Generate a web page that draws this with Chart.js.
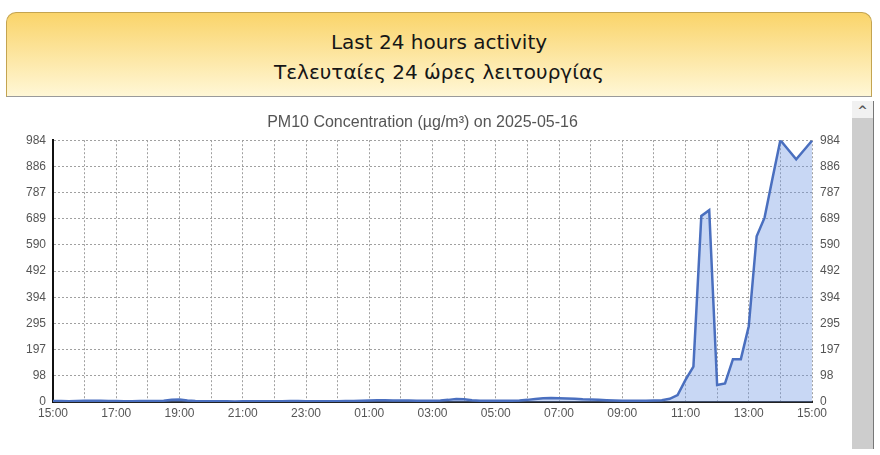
<!DOCTYPE html>
<html>
<head>
<meta charset="utf-8">
<script src="https://cdn.jsdelivr.net/npm/chart.js@4/dist/chart.umd.min.js"></script>
<style>
  html, body { margin: 0; padding: 0; background: #ffffff; }
  body { width: 880px; height: 455px; position: relative; overflow: hidden; }
  #header {
    position: absolute; left: 6px; top: 12px; width: 866px; height: 85px;
    border: 1px solid #c4a450; border-bottom: 1px solid #9a9a9a;
    border-radius: 10px 10px 0 0;
    background: linear-gradient(#fad46a, #fff7d6);
    text-align: center; font-family: "DejaVu Sans", Verdana, sans-serif;
    font-size: 20px; color: #161616; line-height: 30px;
    box-sizing: border-box;
  }
  #header .l1 { margin-top: 14px; }
  #chartBox { position: absolute; left: 0; top: 100px; width: 845px; height: 330px; }
  #scroll { position: absolute; left: 852px; top: 101px; width: 21px; height: 348px; background: #cdcdcd; border-right: 1px solid #777; }
  #scroll .up { height: 17px; background: #f1f1f1; text-align: center; font: bold 12px "DejaVu Sans", sans-serif; color: #555; line-height: 20px; }
</style>
</head>
<body>
<div id="header"><div class="l1">Last 24 hours activity</div><div>Τελευταίες 24 ώρες λειτουργίας</div></div>
<div id="scroll"><div class="up">^</div></div>
<div id="chartBox"><canvas id="c" width="845" height="330"></canvas></div>
<script>
const chartTitle = "PM10 Concentration (µg/m³) on 2025-05-16";
const timeLabels = [
  "15:00","15:15","15:30","15:45","16:00","16:15","16:30","16:45",
  "17:00","17:15","17:30","17:45","18:00","18:15","18:30","18:45",
  "19:00","19:15","19:30","19:45","20:00","20:15","20:30","20:45",
  "21:00","21:15","21:30","21:45","22:00","22:15","22:30","22:45",
  "23:00","23:15","23:30","23:45","00:00","00:15","00:30","00:45",
  "01:00","01:15","01:30","01:45","02:00","02:15","02:30","02:45",
  "03:00","03:15","03:30","03:45","04:00","04:15","04:30","04:45",
  "05:00","05:15","05:30","05:45","06:00","06:15","06:30","06:45",
  "07:00","07:15","07:30","07:45","08:00","08:15","08:30","08:45",
  "09:00","09:15","09:30","09:45","10:00","10:15","10:30","10:45",
  "11:00","11:15","11:30","11:45","12:00","12:15","12:30","12:45",
  "13:00","13:15","13:30","13:45","14:00","14:15","14:30","14:45",
  "15:00"
];
const pm10Values = [
  4,4,3,4,5,5,5,4,
  4,3,3,4,4,4,5,8,
  9,6,4,3,3,3,3,2,
  3,3,3,3,3,3,4,4,
  3,3,3,3,3,4,4,5,
  6,7,7,6,6,6,5,5,
  5,6,8,11,10,7,5,5,
  5,5,5,6,8,11,14,15,
  14,13,12,10,9,8,7,6,
  5,5,5,5,6,7,12,26,
  83,133,699,721,64,70,161,161,
  285,623,693,840,984,948,912,947,
  982
];
const yTickValues = [0, 98.4, 196.8, 295.2, 393.6, 492, 590.4, 688.8, 787.2, 885.6, 984];
const yTickLabels = ["0","98","197","295","394","492","590","689","787","886","984"];

const tickFont = { family: "'Liberation Sans', Arial, sans-serif", size: 12 };
const gridColor = "#a0a0a0";

function setYTicks(scale) {
  scale.ticks = yTickValues.map(v => ({ value: v }));
}
function yLabel(value) {
  const i = yTickValues.indexOf(value);
  return i >= 0 ? yTickLabels[i] : "";
}

new Chart(document.getElementById("c"), {
  type: "line",
  data: {
    labels: timeLabels,
    datasets: [{
      data: pm10Values,
      borderColor: "#4a6fbf",
      backgroundColor: "rgba(110,150,225,0.38)",
      borderWidth: 2.5,
      fill: "origin",
      tension: 0,
      pointRadius: 0
    }]
  },
  options: {
    responsive: false,
    animation: false,
    layout: { padding: { top: 6, bottom: 8, left: 0, right: 0 } },
    plugins: {
      legend: { display: false },
      tooltip: { enabled: false },
      title: {
        display: true,
        text: chartTitle,
        color: "#555",
        font: { family: "'Liberation Sans', Arial, sans-serif", size: 16, weight: "normal" },
        padding: { top: 7, bottom: 8 }
      }
    },
    scales: {
      x: {
        type: "category",
        afterBuildTicks: s => { s.ticks = s.ticks.filter((t, i) => i % 4 === 0); },
        afterFit: s => { s.height = 20; },
        ticks: {
          autoSkip: false, maxRotation: 0, minRotation: 0, padding: 4,
          color: "#555", font: tickFont,
          callback: function (value, index) { return index % 2 === 0 ? timeLabels[value] : ""; }
        },
        grid: { color: gridColor, lineWidth: 1, drawTicks: false },
        border: { display: true, color: "#222", width: 2, dash: [2, 2] }
      },
      y: {
        position: "left",
        min: 0, max: 984,
        afterBuildTicks: setYTicks,
        afterFit: s => { s.width = 53; },
        ticks: { color: "#555", font: tickFont, padding: 7, callback: yLabel },
        grid: { color: gridColor, lineWidth: 1, drawTicks: false },
        border: { display: true, color: "#111", width: 2, dash: [2, 2] }
      },
      y2: {
        position: "right",
        min: 0, max: 984,
        afterBuildTicks: setYTicks,
        afterFit: s => { s.width = 33; },
        ticks: { color: "#555", font: tickFont, padding: 8, callback: yLabel },
        grid: { display: false, drawTicks: false },
        border: { display: false }
      }
    }
  }
});
</script>
</body>
</html>
